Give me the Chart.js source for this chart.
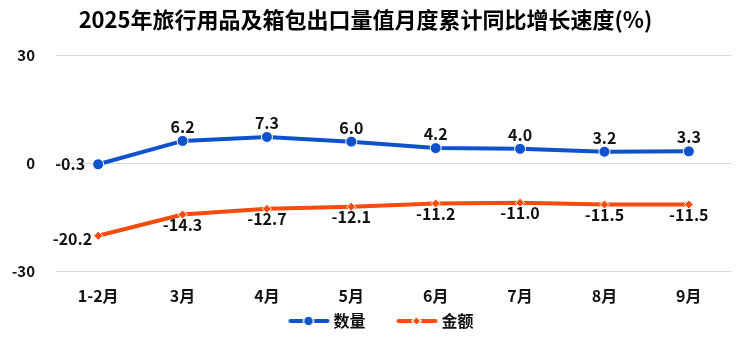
<!DOCTYPE html>
<html>
<head>
<meta charset="utf-8">
<script src="https://cdn.jsdelivr.net/npm/chart.js@4/dist/chart.umd.min.js"></script>
<style>
  html, body { margin: 0; padding: 0; background: #fff; }
  #wrap { width: 750px; height: 343px; }
</style>
</head>
<body>
<div id="wrap"><canvas id="c" width="750" height="343"></canvas></div>
<script>
// Monthly cumulative YoY growth of travel goods & luggage exports, 2025
const months = ['1-2月', '3月', '4月', '5月', '6月', '7月', '8月', '9月'];
const volumeGrowth = [-0.3, 6.2, 7.3, 6.0, 4.2, 4.0, 3.2, 3.3];
const valueGrowth = [-20.2, -14.3, -12.7, -12.1, -11.2, -11.0, -11.5, -11.5];
const yTicks = [-30, 0, 30];

const BLUE = '#0E52CC';
const ORANGE = '#F54C0E';
const FONT = '"Noto Sans CJK SC", "Noto Sans", sans-serif';

// Legend icon: short line with the series marker in the middle,
// with a transparent margin on the left to space the items apart
const ICON_W = 78;
function legendIcon(color, marker) {
  const cv = document.createElement('canvas');
  cv.width = ICON_W; cv.height = 12;
  const g = cv.getContext('2d');
  g.strokeStyle = color; g.lineWidth = 4; g.lineCap = 'round';
  g.beginPath(); g.moveTo(38, 6); g.lineTo(75, 6); g.stroke();
  g.fillStyle = color; g.strokeStyle = '#fff'; g.lineWidth = 1.5;
  g.beginPath();
  if (marker === 'circle') {
    g.arc(56, 6, 5, 0, Math.PI * 2);
  } else {
    g.moveTo(56, 1.5); g.lineTo(60.5, 6); g.lineTo(56, 10.5); g.lineTo(51.5, 6); g.closePath();
  }
  g.fill(); g.stroke();
  return cv;
}

// Value labels drawn next to each point
const valueLabels = {
  id: 'valueLabels',
  afterDatasetsDraw(chart) {
    const ctx = chart.ctx;
    ctx.save();
    ctx.font = 'bold 16px ' + FONT;
    ctx.fillStyle = '#111';
    chart.data.datasets.forEach((ds, di) => {
      const meta = chart.getDatasetMeta(di);
      meta.data.forEach((pt, i) => {
        const txt = ds.data[i].toFixed(1);
        let x = pt.x, y = pt.y;
        if (di === 0) {
          if (i === 0) { ctx.textAlign = 'right'; ctx.textBaseline = 'middle'; x -= 13; }
          else { ctx.textAlign = 'center'; ctx.textBaseline = 'bottom'; y -= 6; }
        } else {
          if (i === 0) { ctx.textAlign = 'right'; ctx.textBaseline = 'top'; x -= 6; y -= 5; }
          else { ctx.textAlign = 'center'; ctx.textBaseline = 'top'; y += 2; }
        }
        ctx.fillText(txt, x, y);
      });
    });
    ctx.restore();
  }
};

new Chart(document.getElementById('c'), {
  type: 'line',
  data: {
    labels: months,
    datasets: [
      {
        label: '数量',
        data: volumeGrowth,
        borderColor: BLUE,
        backgroundColor: BLUE,
        borderWidth: 4,
        pointStyle: 'circle',
        pointRadius: 5.5,
        pointBackgroundColor: BLUE,
        pointBorderColor: '#fff',
        pointBorderWidth: 1,
        tension: 0
      },
      {
        label: '金额',
        data: valueGrowth,
        borderColor: ORANGE,
        backgroundColor: ORANGE,
        borderWidth: 4,
        pointStyle: 'rectRot',
        pointRadius: 4.5,
        pointBackgroundColor: ORANGE,
        pointBorderColor: '#fff',
        pointBorderWidth: 1,
        tension: 0
      }
    ]
  },
  options: {
    responsive: false,
    animation: false,
    layout: { padding: { left: 0, right: 19, top: 0, bottom: 4 } },
    plugins: {
      title: {
        display: true,
        text: '2025年旅行用品及箱包出口量值月度累计同比增长速度(%)',
        color: '#000',
        font: { family: FONT, size: 22, weight: 'bold' },
        padding: { top: 6, bottom: 23 }
      },
      legend: {
        position: 'bottom',
        labels: {
          usePointStyle: true,
          pointStyleWidth: ICON_W - 10,
          color: '#111',
          font: { family: FONT, size: 16, weight: 'bold' },
          padding: 0,
          generateLabels(chart) {
            return chart.data.datasets.map((ds, i) => ({
              text: ds.label,
              pointStyle: legendIcon(ds.borderColor, i === 0 ? 'circle' : 'diamond'),
              fillStyle: ds.borderColor,
              strokeStyle: ds.borderColor,
              lineWidth: 0,
              datasetIndex: i,
              fontColor: '#111'
            }));
          }
        }
      },
      tooltip: { enabled: false }
    },
    scales: {
      x: {
        offset: true,
        grid: { display: false },
        border: { display: false },
        ticks: { color: '#111', font: { family: FONT, size: 16, weight: 'bold', lineHeight: 1 }, padding: 9 }
      },
      y: {
        min: yTicks[0],
        max: yTicks[yTicks.length - 1],
        afterBuildTicks(axis) { axis.ticks = yTicks.map(v => ({ value: v })); },
        afterFit(axis) { axis.width = 56; },
        grid: { color: '#D9D9D9', lineWidth: 1, drawTicks: false },
        border: { display: false },
        ticks: { color: '#111', font: { family: FONT, size: 15, weight: 'bold' }, padding: 21 }
      }
    }
  },
  plugins: [valueLabels]
});
</script>
</body>
</html>
